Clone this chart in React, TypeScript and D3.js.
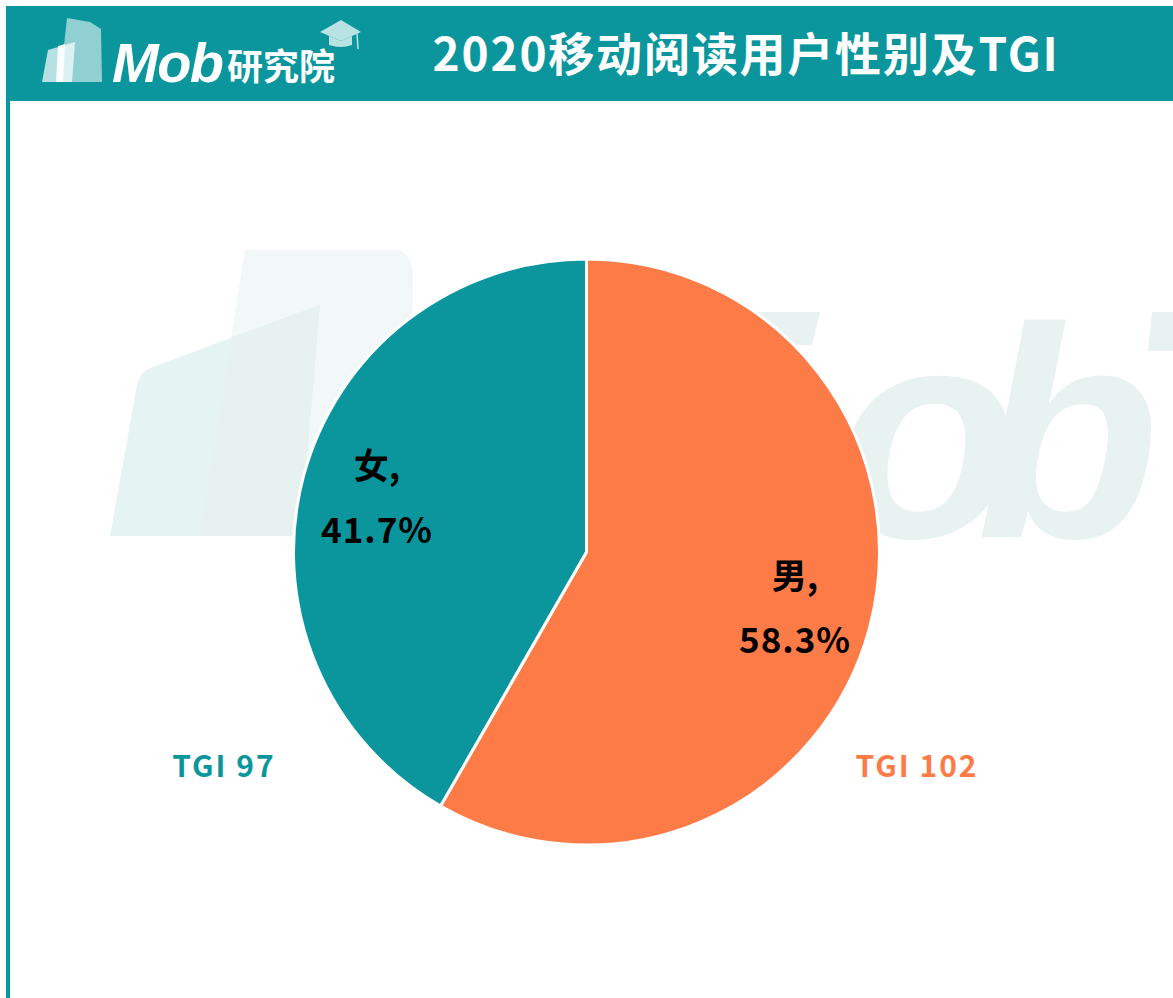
import React from "react";
import * as d3 from "d3";

const categories = ["男", "女"];
const shares = [58.3, 41.7];
const tgiValues = [102, 97];
const sliceColors = ["#FD7B47", "#0A969C"];
const title = "2020移动阅读用户性别及TGI";

const W = 1173;
const H = 998;
const FONT = "'Noto Sans CJK SC', 'Noto Sans', sans-serif";
const LAT = "'Liberation Sans', Arial, sans-serif";

export default function App() {
  const cx = 586.5, cy = 552, r = 293;
  const pie = d3.pie<number>().sort(null).value((d) => d);
  const arcs = pie(shares);
  const arcGen = d3.arc<d3.PieArcDatum<number>>().innerRadius(0).outerRadius(r);
  const color = d3.scaleOrdinal<string, string>().domain(categories).range(sliceColors);

  // label anchor points (x, name baseline, value baseline)
  const labelPos = [
    [795, 589, 653],
    [377, 479, 543],
  ];
  const tgiPos = [
    [917, 777],
    [224, 777],
  ];

  return (
    <svg width={W} height={H} style={{ position: "absolute", left: 0, top: 0, background: "#fff" }}>
      {/* frame */}
      <rect x={6} y={6} width={W - 6} height={95} fill="#0A969C" />
      <rect x={6} y={6} width={4} height={H - 6} fill="#0A969C" />

      {/* header logo */}
      <g>
        <path d="M67,18 L90,22 L101,29 L102,82 L60,82 Z" fill="#FFFFFF" opacity={0.55} />
        <path d="M48,50 L75,42 L72,82 L42,82 Z" fill="#FFFFFF" opacity={0.7} />
        <path d="M58,46 L65,44 L63,82 L56,82 Z" fill="#FFFFFF" opacity={0.95} />
        <text x={112} y={82} fill="#fff" fontFamily={LAT} fontStyle="italic" fontSize={56} fontWeight={700} letterSpacing={-1.5}>Mob</text>
        <text x={227} y={80} fill="#fff" fontFamily={FONT} fontSize={36} fontWeight={700}>研究院</text>
        <path d="M320,32 L341,20 L361,32 L341,41 Z" fill="#B9E3E2" />
        <path d="M329,36 L329,45 Q341,49 352,45 L352,36 L341,41 Z" fill="#B9E3E2" />
        <line x1={357} y1={33} x2={358} y2={49} stroke="#B9E3E2" strokeWidth={1.5} />
      </g>
      <text x={746} y={71} textAnchor="middle" fill="#fff" fontFamily={FONT} fontWeight={700} fontSize={46} letterSpacing={1.8}>{title}</text>

      {/* watermark */}
      <g>
        <path d="M245,250 L398,250 Q412,254 413,275 L410,535 L200,535 Z" fill="#F2F8F7" />
        <path d="M150,368 L320,305 L300,536 L110,536 L137,385 Q140,372 150,368 Z" fill="#E5F4F3" />
        <path d="M232,337 L320,305 L300,536 L200,536 Z" fill="#E6F1F0" />
        <path d="M752,312 L820,312 L812,345 L760,345 Z" fill="#E7F2F1" />
        <text x={835} y={537} fontFamily={LAT} fontStyle="italic" fontWeight={700} fontSize={300} letterSpacing={-42} fill="#E7F2F1">ob</text>
        <path d="M1152,312 L1173,312 L1173,351 L1148,351 Z" fill="#E7F2F1" />
      </g>

      {/* pie */}
      <g transform={`translate(${cx},${cy})`}>
        {arcs.map((a, i) => (
          <path key={i} d={arcGen(a) || ""} fill={color(categories[i])} stroke="#fff" strokeWidth={3} strokeLinejoin="round" />
        ))}
      </g>

      {arcs.map((a, i) => (
        <g key={"l" + i} fontFamily={FONT} fontWeight={700} fill="#000" textAnchor="middle">
          <text x={labelPos[i][0]} y={labelPos[i][1]} fontSize={35}>{categories[i]},</text>
          <text x={labelPos[i][0]} y={labelPos[i][2]} fontSize={35} letterSpacing={1}>{`${d3.format(".1f")(a.data)}%`}</text>
        </g>
      ))}

      {tgiValues.map((v, i) => (
        <text key={"t" + i} x={tgiPos[i][0]} y={tgiPos[i][1]} textAnchor="middle" fontFamily={FONT} fontWeight={700} fontSize={30} letterSpacing={2} fill={sliceColors[i]}>{`TGI ${v}`}</text>
      ))}
    </svg>
  );
}
